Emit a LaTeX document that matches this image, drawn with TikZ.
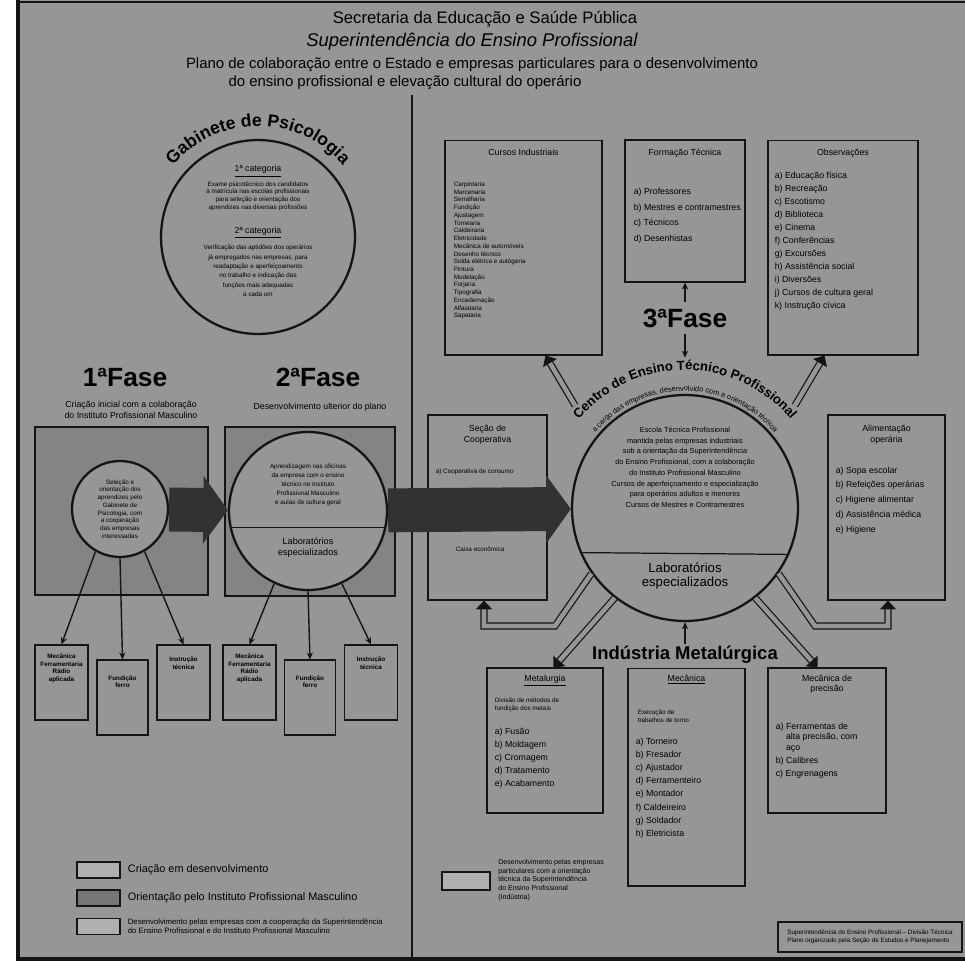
\documentclass[tikz,border=0pt]{standalone}
\usepackage{fontspec}
\setmainfont{Liberation Sans}
\usetikzlibrary{arrows.meta,positioning,calc,decorations.text}
\definecolor{paper}{RGB}{150,150,150}
\definecolor{ink}{RGB}{20,20,20}
\definecolor{smudge}{RGB}{50,50,50}
\definecolor{pale}{RGB}{176,176,176}
\definecolor{dim}{RGB}{118,118,118}
\newcommand{\tinytxt}{\fontsize{3.6}{4.4}\selectfont}
\newcommand{\smalltxt}{\fontsize{5}{6}\selectfont}
\newcommand{\fasetxt}{\fontsize{15}{15}\selectfont\bfseries}
\tikzset{
  panel/.style={draw=ink,line width=0.6pt,fill=paper,inner sep=0pt},
  ring/.style={circle,draw=ink,line width=1.3pt,fill=paper,inner sep=0pt},
  leaf/.style={panel,minimum width=1.06cm,minimum height=1.5cm},
  key/.style={panel,minimum width=0.86cm,minimum height=0.32cm,fill=pale},
  words/.style={font=\tinytxt,align=left,inner sep=0pt},
  head/.style={font=\smalltxt,align=center,inner sep=0pt},
  arr/.style={-{Stealth[length=4pt,width=3.5pt]},draw=ink,line width=0.8pt},
  band/.style={draw=ink,double=paper,double distance=2.6pt,line width=0.7pt,-{Triangle[length=5pt,width=9pt]}},
  flow/.style={draw=smudge,line width=25pt,-{Triangle[length=14pt,width=38pt]}},
  ringtext/.style={decorate,decoration={text along path,text align=center,text format delimiters={|}{|}}}
}
\begin{document}
\begin{tikzpicture}[x=0.02cm,y=-0.02cm,font=\smalltxt]
  \useasboundingbox (0,0) rectangle (965,961);
  \fill[paper] (17,0) rectangle (965,961);
  \draw[ink,line width=2pt] (18,0) -- (18,961);
  \draw[ink,line width=0.8pt] (18,2) -- (965,2);
  \draw[ink,line width=2pt] (18,959) -- (965,959);

  % heading
  \node (sec) at (485,19) {\fontsize{9.5}{10}\selectfont Secretaria da Educação e Saúde Pública};
  \node (sup) at (472,42) {\fontsize{10.5}{11}\selectfont\itshape Superintendência do Ensino Profissional};
  \node (plan) at (472,65) {\fontsize{8.5}{9}\selectfont Plano de colaboração entre o Estado e empresas particulares para o desenvolvimento};
  \node (plan2) at (405,83) {\fontsize{8.5}{9}\selectfont do ensino profissional e elevação cultural do operário};

  \coordinate (divtop) at (412,95);
  \coordinate (divbot) at (412,961);
  \draw[ink,line width=1.5pt] (divtop) -- (divbot);

  % gabinete
  \node[ring,minimum size=3.88cm] (gab) at (258,237) {};
  \path[ringtext,decoration={text={|\fontsize{10}{10}\selectfont\bfseries|Gabinete de Psicologia}}]
    (gab.center) ++(200:111) arc[start angle=200,end angle=340,radius=111];
  \node[head,below=15pt of gab.north] (cat1) {\underline{1ª categoria}};
  \node[words,align=center,below=2pt of cat1] (cat1txt) {Exame psicotécnico dos candidatos\\à matrícula nas escolas profissionais\\para seleção e orientação dos\\aprendizes nas diversas profissões};
  \node[head,below=9pt of cat1txt] (cat2) {\underline{2ª categoria}};
  \node[words,align=center,below=3pt of cat2,font=\fontsize{3.6}{5.4}\selectfont] (cat2txt) {Verificação das aptidões dos operários\\já empregados nas empresas, para\\readaptação e aperfeiçoamento\\no trabalho e indicação das\\funções mais adequadas\\a cada um};

  % fases 1 and 2
  \node[font=\fasetxt] (f1) at (125,377) {1ªFase};
  \node[font=\fasetxt] (f2) at (318,377) {2ªFase};
  \node[head] (f1sub) at (131,410) {Criação inicial com a colaboração\\do Instituto Profissional Masculino};
  \node[head] (f2sub) at (320,407) {Desenvolvimento ulterior do plano};

  \node[panel,fill=paper!88!black,minimum width=3.46cm,minimum height=3.36cm] (ph1) at (121.5,511) {};
  \node[panel,fill=paper!88!black,minimum width=3.40cm,minimum height=3.38cm] (ph2) at (310,511.5) {};
  \node[ring,minimum size=1.92cm] (c1) at (120,509) {};
  \node[words,align=center] at (c1) {Seleção e\\orientação dos\\aprendizes pelo\\Gabinete de\\Psicologia, com\\a cooperação\\das empresas\\interessadas};
  \node[ring,minimum size=3.16cm] (c2) at (308,511) {};
  \draw[ink,line width=0.7pt] (c2.192) -- (c2.348);
  \node[words,align=center,font=\fontsize{3.6}{5}\selectfont,above=3pt of c2.center] {Aprendizagem nas oficinas\\da empresa com o ensino\\técnico no Instituto\\Profissional Masculino\\e aulas de cultura geral};
  \node[head,font=\fontsize{5.2}{6.2}\selectfont] (lab2) at (308,548) {Laboratórios\\especializados};
  \draw[flow] (c1) -- (c2);

  % small boxes under fases
  \node[leaf] (la) at (61.5,682.5) {};
  \node[leaf,minimum width=1.02cm] (lb) at (122.5,697.5) {};
  \node[leaf] (lc) at (183.5,682.5) {};
  \node[leaf] (ld) at (249.5,682.5) {};
  \node[leaf,minimum width=1.02cm] (le) at (310,697.5) {};
  \node[leaf] (lf) at (371,682.5) {};
  \node[words,align=center,font=\tinytxt\bfseries,below=5pt of la.north] {Mecânica\\Ferramentaria\\Rádio\\aplicada};
  \node[words,align=center,font=\tinytxt\bfseries,below=9pt of lb.north] {Fundição\\ferro};
  \node[words,align=center,font=\tinytxt\bfseries,below=7pt of lc.north] {Instrução\\técnica};
  \node[words,align=center,font=\tinytxt\bfseries,below=5pt of ld.north] {Mecânica\\Ferramentaria\\Rádio\\aplicada};
  \node[words,align=center,font=\tinytxt\bfseries,below=9pt of le.north] {Fundição\\ferro};
  \node[words,align=center,font=\tinytxt\bfseries,below=7pt of lf.north] {Instrução\\técnica};
  \draw[arr] (c1.240) -- (la.north);
  \draw[arr] (c1.south) -- (lb.north);
  \draw[arr] (c1.300) -- (lc.north);
  \draw[arr] (c2.245) -- (ld.north);
  \draw[arr] (c2.south) -- (le.north);
  \draw[arr] (c2.295) -- (lf.north);

  % left legend
  \node[key] (k1) at (98.5,870) {};
  \node[key,fill=dim] (k2) at (98.5,898) {};
  \node[key] (k3) at (98.5,926.5) {};
  \node[right=4pt of k1,font=\fontsize{6.2}{7}\selectfont,inner sep=0pt] {Criação em desenvolvimento};
  \node[right=4pt of k2,font=\fontsize{6.2}{7}\selectfont,inner sep=0pt] {Orientação pelo Instituto Profissional Masculino};
  \node[right=4pt of k3,words,font=\fontsize{4.4}{5.2}\selectfont] {Desenvolvimento pelas empresas com a cooperação da Superintendência\\do Ensino Profissional e do Instituto Profissional Masculino};

  % fase 3, top boxes
  \node[panel,minimum width=3.14cm,minimum height=4.30cm] (ci) at (523.5,247.5) {};
  \node[panel,minimum width=2.40cm,minimum height=2.84cm] (ft) at (685,211) {};
  \node[panel,minimum width=3.00cm,minimum height=4.30cm] (obs) at (843,247.5) {};
  \node[head,below=5pt of ci.north] {Cursos Industriais};
  \node[words,anchor=north west] at ($(ci.north west)+(9,42)$) {Carpintaria\\Marcenaria\\Serralharia\\Fundição\\Ajustagem\\Tornearia\\Caldeiraria\\Eletricidade\\Mecânica de automóveis\\Desenho técnico\\Solda elétrica e autógena\\Pintura\\Modelação\\Forjaria\\Tipografia\\Encadernação\\Alfaiataria\\Sapataria};
  \node[head,below=5pt of ft.north] {Formação Técnica};
  \node[head,align=left,anchor=north west] at ($(ft.north west)+(9,48)$) {a) Professores\\[3pt]b) Mestres e contramestres\\[3pt]c) Técnicos\\[3pt]d) Desenhistas};
  \node[head,below=5pt of obs.north] {Observações};
  \node[head,align=left,anchor=north west] at ($(obs.north west)+(7,32)$) {a) Educação física\\[1.4pt]b) Recreação\\[1.4pt]c) Escotismo\\[1.4pt]d) Biblioteca\\[1.4pt]e) Cinema\\[1.4pt]f) Conferências\\[1.4pt]g) Excursões\\[1.4pt]h) Assistência social\\[1.4pt]i) Diversões\\[1.4pt]j) Cursos de cultura geral\\[1.4pt]k) Instrução cívica};

  % centre
  \node[panel,minimum width=2.38cm,minimum height=3.70cm] (coop) at (487.5,507.5) {};
  \node[panel,minimum width=2.34cm,minimum height=3.70cm] (food) at (886.5,507.5) {};
  \node[head,below=6pt of coop.north] (coophd) {Seção de\\Cooperativa};
  \node[words,anchor=north west] at ($(coop.north west)+(8,54)$) {a) Cooperativa de consumo};
  \node[words,anchor=north west] at ($(coop.north west)+(28,132)$) {Caixa econômica};
  \node[head,below=6pt of food.north] {Alimentação\\operária};
  \node[head,align=left,anchor=north west] at ($(food.north west)+(8,52)$) {a) Sopa escolar\\[2.4pt]b) Refeições operárias\\[2.4pt]c) Higiene alimentar\\[2.4pt]d) Assistência médica\\[2.4pt]e) Higiene};

  \node[ring,minimum size=4.52cm] (big) at (685,508) {};
  \node[circle,minimum size=6.0cm,inner sep=0pt] (halo) at (big) {};
  \path[ringtext,decoration={text={|\fontsize{7.5}{7.5}\selectfont\bfseries|Centro de Ensino Técnico Profissional}}]
    (big.center) ++(196:138) arc[start angle=196,end angle=344,radius=138];
  \path[ringtext,decoration={text={|\fontsize{4.2}{4.2}\selectfont|a cargo das empresas, desenvolvido com a orientação técnica}}]
    (big.center) ++(212:117) arc[start angle=212,end angle=328,radius=117];
  \draw[ink,line width=0.7pt] (big.203.5) -- (big.336.5);
  \node[words,align=center,font=\fontsize{4.2}{6.1}\selectfont,above=0pt of big.center] {Escola Técnica Profissional\\mantida pelas empresas industriais\\sob a orientação da Superintendência\\do Ensino Profissional, com a colaboração\\do Instituto Profissional Masculino\\Cursos de aperfeiçoamento e especialização\\para operários adultos e menores\\Cursos de Mestres e Contramestres};
  \node[head,font=\fontsize{7.5}{8}\selectfont] (lab3) at (685,576) {Laboratórios\\especializados};
  \draw[flow] (c2) -- (big);

  \node[font=\fasetxt] (f3) at (685,318) {3ªFase};
  \draw[arr] (f3) -- (ft);
  \draw[arr] (f3) -- (halo.north);

  % industria metalurgica
  \node[font=\fontsize{10.5}{11}\selectfont\bfseries,inner sep=1pt] (indm) at (685,655) {Indústria Metalúrgica};
  \node[panel,minimum width=2.32cm,minimum height=2.90cm] (metal) at (545,740.5) {};
  \node[panel,minimum width=2.34cm,minimum height=4.36cm] (mec) at (686.5,777) {};
  \node[panel,minimum width=2.36cm,minimum height=2.90cm] (prec) at (827,740.5) {};
  \node[head,below=4pt of metal.north] (metalhd) {\underline{Metalurgia}};
  \node[words,anchor=north west] at ($(metal.north west)+(8,30)$) {Divisão de métodos de\\fundição dos metais};
  \node[head,align=left,anchor=north west] at ($(metal.north west)+(8,60)$) {a) Fusão\\[1.5pt]b) Moldagem\\[1.5pt]c) Cromagem\\[1.5pt]d) Tratamento\\[1.5pt]e) Acabamento};
  \node[head,below=4pt of mec.north] {\underline{Mecânica}};
  \node[words,anchor=north west] at ($(mec.north west)+(10,42)$) {Execução de\\trabalhos de torno};
  \node[head,align=left,anchor=north west] at ($(mec.north west)+(8,70)$) {a) Torneiro\\[1.5pt]b) Fresador\\[1.5pt]c) Ajustador\\[1.5pt]d) Ferramenteiro\\[1.5pt]e) Montador\\[1.5pt]f) Caldeireiro\\[1.5pt]g) Soldador\\[1.5pt]h) Eletricista};
  \node[head,below=4pt of prec.north] {Mecânica de\\precisão};
  \node[head,align=left,anchor=north west] at ($(prec.north west)+(8,55)$) {a) Ferramentas de\\\phantom{a) }alta precisão, com\\\phantom{a) }aço\\[1.5pt]b) Calibres\\[1.5pt]c) Engrenagens};

  % connectors round the centre
  \coordinate (lknee) at (555,626);
  \coordinate (lfoot) at (484,626);
  \coordinate (rknee) at (815,626);
  \coordinate (rfoot) at (888,626);
  \draw[band] (halo.137) -- ($(ci.south east)+(-57,0)$);
  \draw[band] (halo.43) -- ($(obs.south west)+(57,0)$);
  \draw[band] (big.232) -- ($(metal.north east)+(-50,0)$);
  \draw[band] (big.308) -- ($(prec.north west)+(50,0)$);
  \draw[band] (big.215) -- (lknee) -- (lfoot) -- (lfoot |- coop.south);
  \draw[band] (big.325) -- (rknee) -- (rfoot) -- (rfoot |- food.south);
  \draw[arr] (indm) -- (big);

  % right legend and stamp
  \node[key,minimum width=0.96cm,minimum height=0.36cm] (k4) at (466,881) {};
  \node[words,font=\fontsize{4}{5}\selectfont,anchor=west] at (498,880) {Desenvolvimento pelas empresas\\particulares com a orientação\\técnica da Superintendência\\do Ensino Profissional\\(Indústria)};
  \node[panel,minimum width=3.68cm,minimum height=0.6cm,font=\tinytxt,align=left] (stamp) at (870,937) {Superintendência do Ensino Profissional -- Divisão Técnica\\Plano organizado pela Seção de Estudos e Planejamento};
\end{tikzpicture}
\end{document}
